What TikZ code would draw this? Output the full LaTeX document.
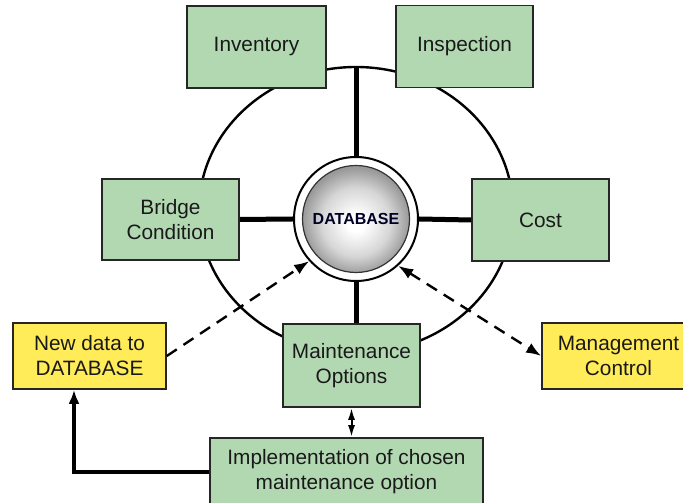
\documentclass[tikz,border=0pt]{standalone}
\usepackage{fontspec}
\setmainfont{Liberation Sans}
\usetikzlibrary{arrows.meta,shapes.geometric}
\definecolor{boxgreen}{RGB}{178,216,178}
\definecolor{boxyellow}{RGB}{255,236,88}
\pgfdeclareradialshading{dbshade}{\pgfpoint{0bp}{-2bp}}{color(0bp)=(white); color(4bp)=(white); color(16bp)=(black!16); color(25bp)=(black!40); color(50bp)=(black!40)}
\begin{document}
\begin{tikzpicture}[x=1pt, y=1pt,
  every node/.style={font=\fontsize{20.8}{25}\selectfont, text=black!90, align=center, inner sep=0pt},
  green box/.style={draw=black!85, fill=boxgreen, line width=1.6pt, minimum width=137pt, minimum height=82pt},
  yellow box/.style={draw=black!85, fill=boxyellow, line width=1.6pt, minimum width=153pt, minimum height=66pt},
  hub edge/.style={draw, line width=5pt},
  dashed edge/.style={draw, dash pattern=on 12pt off 8pt, line width=2.4pt},
  small edge/.style={draw, line width=2pt, {Latex[length=12pt,width=7pt]}-{Latex[length=12pt,width=7pt]}},
  feed edge/.style={draw, line width=4pt, -{Latex[length=14pt,width=11pt]}}
]
\useasboundingbox (0,0) rectangle (683,503);
% Define the nodes
\node[draw, ellipse, line width=2.4pt, minimum width=314pt, minimum height=286pt] (Ring) at (356,293) {};
\node[green box, minimum width=139pt] (Inv) at (256.5,456) {Inventory};
\node[green box] (Insp) at (464.5,456.5) {Inspection};
\node[green box, minimum height=81pt] (BC) at (170.5,283.5) {Bridge\\Condition};
\node[green box] (Cost) at (540.5,283) {Cost};
\node[green box, minimum height=83pt] (MO) at (351.5,137.5) {Maintenance\\Options};
\node[green box, minimum width=273pt, minimum height=68pt] (Impl) at (346.5,31) {Implementation of chosen\\maintenance option};
\node[yellow box] (New) at (89.5,147) {New data to\\DATABASE};
\node[yellow box] (MC) at (618.5,147) {Management\\Control};
\node[circle, draw, fill=white, line width=2pt, minimum size=124pt] (DB) at (356,284) {};
\node[circle, draw=black!80, line width=1.2pt, shade, shading=dbshade,
  minimum size=107pt, font=\bfseries\fontsize{16}{19}\selectfont, text=black!85!blue] (Core) at (DB.center) {DATABASE};
% Define the edges
\path[hub edge] (BC.east) -- (DB.west);
\path[hub edge] (DB.east) -- (Cost.west);
\path[hub edge] (DB.north) -- (Ring.north);
\path[hub edge] (DB.south) -- (DB.south |- MO.north);
\path[dashed edge, -{Latex[length=15pt,width=11pt]}] (New.east) -- (DB.222);
\path[dashed edge, {Latex[length=15pt,width=11pt]}-{Latex[length=15pt,width=11pt]}] (DB.312) -- (MC.west);
\path[small edge] (MO.south) -- (MO.south |- Impl.north);
\path[feed edge] (Impl.west) -| ([xshift=-15.5pt]New.south);
\end{tikzpicture}
\end{document}
